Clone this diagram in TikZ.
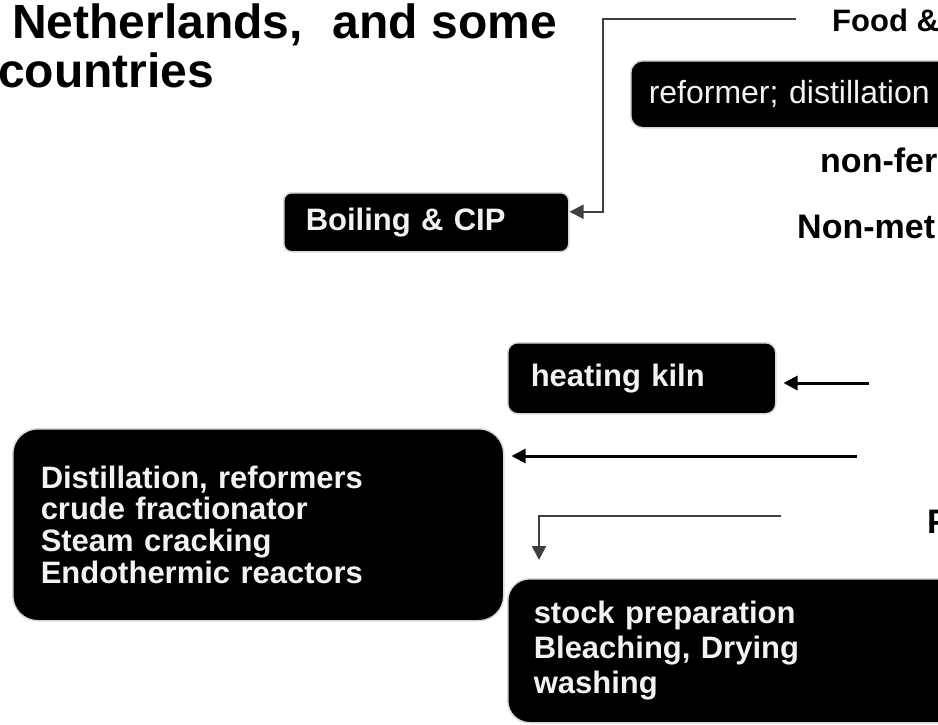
\documentclass[tikz,border=0pt]{standalone}
\usepackage{fontspec}
\setmainfont{Liberation Sans}
\usetikzlibrary{positioning,arrows.meta}
\definecolor{linkgray}{HTML}{404040}
\definecolor{boxedge}{HTML}{D9D9D9}
\definecolor{boxtext}{HTML}{F2F2F2}

\begin{document}
\begin{tikzpicture}[x=1pt,y=-1pt,
  box/.style={draw=boxedge,line width=1.5pt,fill=black,text=boxtext,align=left,
    anchor=north west,inner ysep=0pt,font=\fontsize{31}{31.7}\bfseries\selectfont},
  lbl/.style={anchor=base west,inner sep=0pt,font=\fontsize{34}{38}\bfseries\selectfont},
  blk/.style={black,line width=3pt,-{Triangle[length=14pt,width=14pt]}},
  gry/.style={linkgray,line width=2pt,-{Triangle[length=14pt,width=14pt]}}]

\useasboundingbox (0,0) rectangle (938,724);
\clip (0,0) rectangle (938,724);

% title
\node[lbl,font=\fontsize{48}{54}\bfseries\selectfont] (title1) at (12,38) {Netherlands,\hspace{30pt}and some};
\node[lbl,font=\fontsize{48}{54}\bfseries\selectfont] (title2) at (-2,87) {countries};

% sectors on the right
\node[lbl,font=\fontsize{31}{36}\bfseries\selectfont] (food) at (832,31) {Food \&};
\node[lbl] (nonfer) at (820,172) {non-fer};
\node[lbl] (nonmet) at (797,238) {Non-met};
\node[lbl] (pulp) at (927,533) {P};

% processes
\node[box,rounded corners=12pt,text width=400pt,inner xsep=18pt,minimum height=67pt,
  font=\fontsize{32}{34}\selectfont] (reform) at (630,60) {reformer; distillation};
\node[box,rounded corners=8pt,text width=241pt,inner xsep=22pt,minimum height=59pt] (boil) at (283,192) {Boiling \& CIP};
\node[box,rounded corners=10pt,text width=222pt,inner xsep=23pt,minimum height=71pt] (kiln) at (507,342) {heating kiln};
\node[box,rounded corners=25pt,text width=435pt,inner xsep=28pt,minimum height=192pt] (dist) at (12,428)
  {Distillation, reformers\\crude fractionator\\Steam cracking\\Endothermic reactors};
\node[box,rounded corners=22pt,text width=420pt,inner xsep=26pt,minimum height=144pt,
  font=\fontsize{31}{35}\bfseries\selectfont] (stock) at (507,578)
  {stock preparation\\Bleaching, Drying\\washing};

% links
\coordinate (foodin) at (796,19);
\coordinate (kilnin) at (869,383);
\coordinate (distin) at (857,456);
\coordinate (stockin) at (781,516);

\draw[gry] (foodin) -- ++(-193,0) |- ([yshift=10.5pt]boil.east);
\draw[blk,shorten >=7pt] (kilnin) -- (kiln.east |- kilnin);
\draw[blk,shorten >=7pt] (distin) -- (dist.east |- distin);
\draw[gry,shorten >=18pt] (stockin) -| ([xshift=32pt]stock.north west);

\end{tikzpicture}
\end{document}
